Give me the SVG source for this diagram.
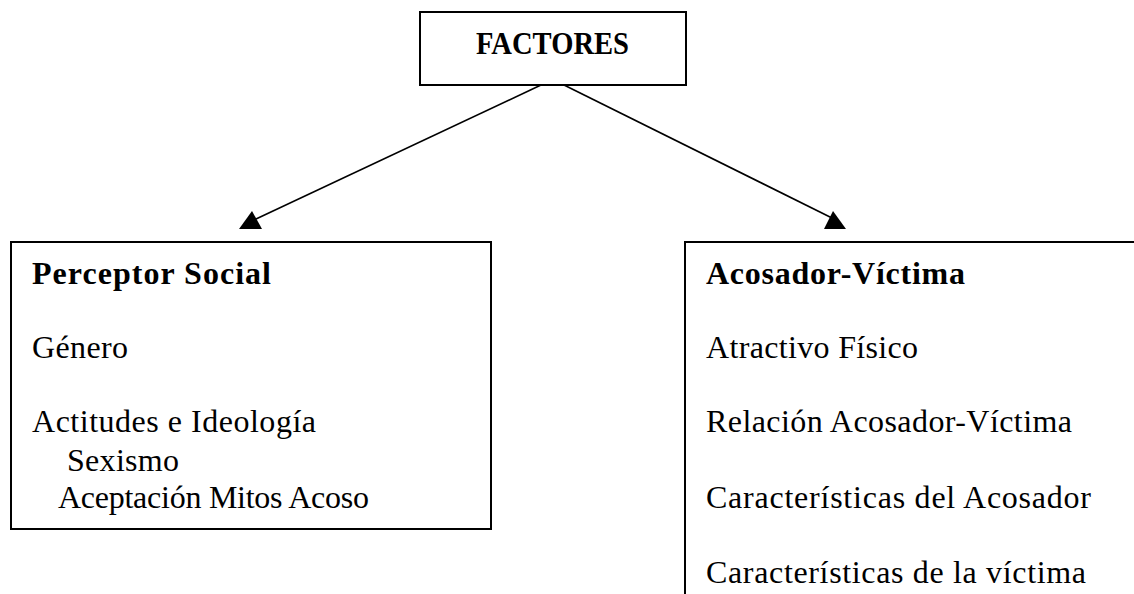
<svg xmlns="http://www.w3.org/2000/svg" width="1134" height="594" viewBox="0 0 1134 594">
<style>
.box{fill:#fff;stroke:#000;stroke-width:2}
.t{font-family:"Liberation Serif","Times New Roman",serif;font-size:32px;fill:#000}
.b{font-weight:bold}
.c{stroke:#000;stroke-width:1.6;fill:none}
.ah{fill:#000}
</style>
<rect width="1134" height="594" fill="#fff"/>
<g id="factores">
<rect class="box" x="420" y="12" width="266" height="73"/>
<text class="t b" x="476" y="54" style="font-size:31px" textLength="153" lengthAdjust="spacingAndGlyphs">FACTORES</text>
</g>
<g id="perceptor">
<rect class="box" x="11" y="242" width="480" height="287"/>
<text class="t b" x="32" y="284" textLength="239" lengthAdjust="spacing">Perceptor Social</text>
<text class="t" x="32" y="358" textLength="96" lengthAdjust="spacing">Género</text>
<text class="t" x="32" y="432" textLength="284" lengthAdjust="spacing">Actitudes e Ideología</text>
<text class="t" x="67" y="471" textLength="112" lengthAdjust="spacing">Sexismo</text>
<text class="t" x="58" y="508" textLength="311" lengthAdjust="spacing">Aceptación Mitos Acoso</text>
</g>
<g id="acosador">
<rect class="box" x="685" y="242" width="500" height="400"/>
<text class="t b" x="706" y="284" textLength="259" lengthAdjust="spacing">Acosador-Víctima</text>
<text class="t" x="706" y="358" textLength="212" lengthAdjust="spacing">Atractivo Físico</text>
<text class="t" x="706" y="432" textLength="366" lengthAdjust="spacing">Relación Acosador-Víctima</text>
<text class="t" x="706" y="508" textLength="385" lengthAdjust="spacing">Características del Acosador</text>
<text class="t" x="706" y="583" textLength="380" lengthAdjust="spacing">Características de la víctima</text>
</g>
<g id="connectors">
<line class="c" x1="541" y1="85" x2="256" y2="219"/>
<polygon class="ah" points="252,211 262,229 239,229"/>
<line class="c" x1="564" y1="85" x2="832" y2="218"/>
<polygon class="ah" points="833,211 846,229 824,229"/>
</g>
</svg>
